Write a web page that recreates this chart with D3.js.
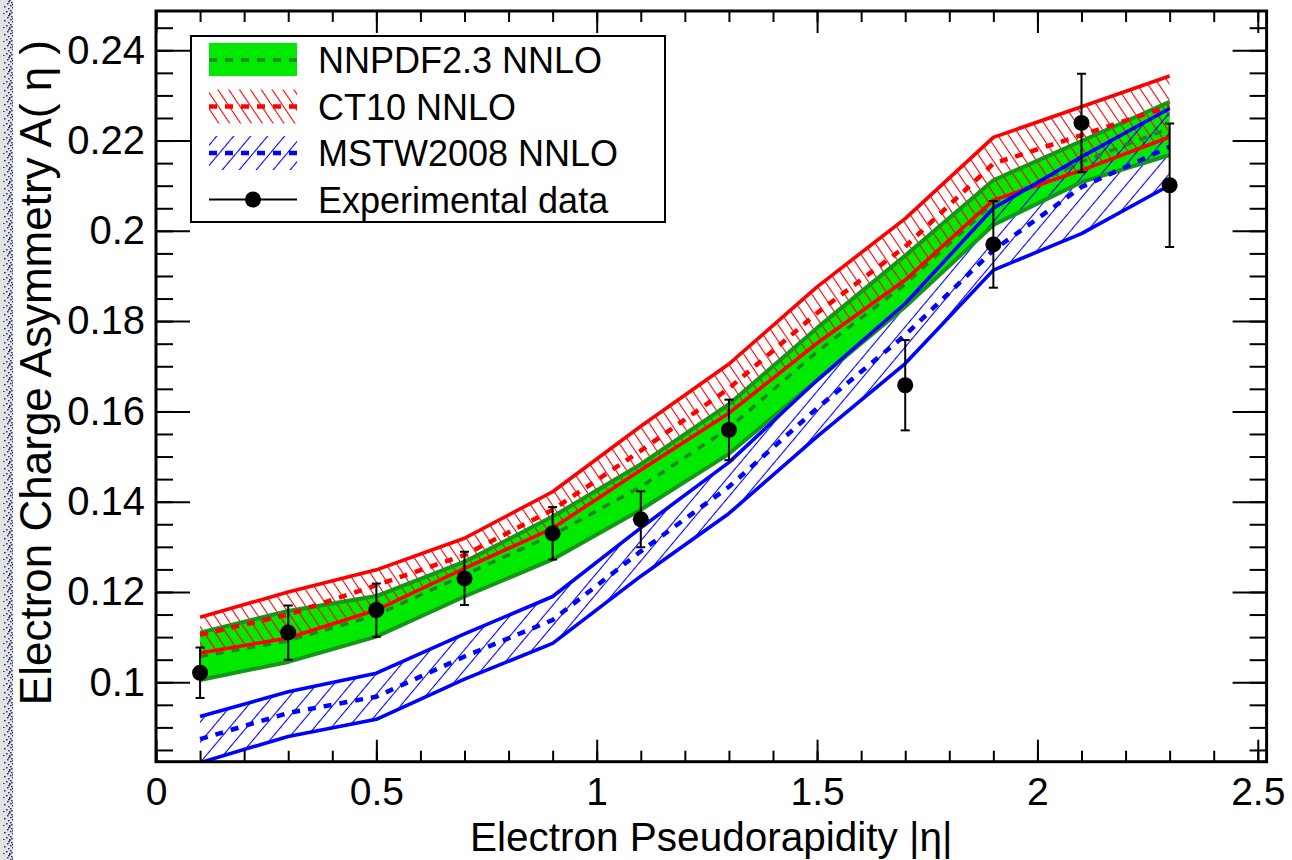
<!DOCTYPE html>
<html>
<head>
<meta charset="utf-8">
<script src="https://cdn.jsdelivr.net/npm/d3@7"></script>
<style>
  body { margin: 0; background: #fff; }
  svg { display: block; font-family: "Liberation Sans", Arial, Helvetica, sans-serif; }
</style>
</head>
<body>
<svg id="chart" width="1292" height="860"></svg>
<script>
// theory predictions, one value per eta bin
const etaBins = [0.1, 0.3, 0.5, 0.7, 0.9, 1.1, 1.3, 1.5, 1.7, 1.9, 2.1, 2.3];

const nnpdfUp  = [0.1110, 0.1158, 0.1191, 0.1267, 0.1367, 0.1483, 0.1616, 0.1785, 0.1945, 0.2112, 0.2199, 0.2286];
const nnpdfCen = [0.1057, 0.1092, 0.1149, 0.1238, 0.1326, 0.1433, 0.1563, 0.1732, 0.1882, 0.2061, 0.2153, 0.2227];
const nnpdfLo  = [0.1005, 0.1045, 0.1101, 0.1190, 0.1272, 0.1382, 0.1506, 0.1669, 0.1832, 0.2013, 0.2108, 0.2168];

const ct10Up  = [0.1144, 0.1200, 0.1249, 0.1319, 0.1422, 0.1567, 0.1705, 0.1876, 0.2027, 0.2207, 0.2275, 0.2343];
const ct10Cen = [0.1105, 0.1150, 0.1215, 0.1282, 0.1382, 0.1513, 0.1651, 0.1818, 0.1965, 0.2149, 0.2212, 0.2276];
const ct10Lo  = [0.1065, 0.1098, 0.1160, 0.1252, 0.1341, 0.1470, 0.1596, 0.1751, 0.1891, 0.2068, 0.2134, 0.2208];

const mstwUp  = [0.0924, 0.0979, 0.1020, 0.1107, 0.1190, 0.1342, 0.1487, 0.1669, 0.1839, 0.2050, 0.2164, 0.2271];
const mstwCen = [0.0874, 0.0932, 0.0968, 0.1057, 0.1138, 0.1290, 0.1433, 0.1607, 0.1769, 0.1957, 0.2097, 0.2186];
const mstwLo  = [0.0822, 0.0880, 0.0918, 0.1007, 0.1086, 0.1235, 0.1374, 0.1544, 0.1706, 0.1913, 0.1994, 0.2101];

// measured asymmetry (no point at 1.5)
const dataEta = [0.1, 0.3, 0.5, 0.7, 0.9, 1.1, 1.3, 1.7, 1.9, 2.1, 2.3];
const dataVal = [0.1021, 0.1110, 0.1160, 0.1230, 0.1330, 0.1361, 0.1559, 0.1658, 0.1970, 0.2239, 0.2101];
const dataErr = [0.0056, 0.0060, 0.0059, 0.0059, 0.0058, 0.0062, 0.0067, 0.0100, 0.0096, 0.0109, 0.0137];

const xTicks = [0, 0.5, 1, 1.5, 2, 2.5];
const xTickLabels = ["0", "0.5", "1", "1.5", "2", "2.5"];
const yTicks = [0.1, 0.12, 0.14, 0.16, 0.18, 0.2, 0.22, 0.24];
const yTickLabels = ["0.1", "0.12", "0.14", "0.16", "0.18", "0.2", "0.22", "0.24"];

const legendLabels = ["NNPDF2.3 NNLO", "CT10 NNLO", "MSTW2008 NNLO", "Experimental data"];

const svg = d3.select("#chart");
const frame = { left: 156, right: 1266.6, top: 11, bottom: 761.7 };

const x = d3.scaleLinear().domain([0, 2.52]).range([frame.left, frame.right]);
const y = d3.scaleLinear().domain([0.0824, 0.2487]).range([frame.bottom, frame.top]);

const defs = svg.append("defs");
defs.append("clipPath").attr("id", "plotClip")
    .append("rect")
    .attr("x", frame.left).attr("y", frame.top)
    .attr("width", frame.right - frame.left).attr("height", frame.bottom - frame.top);

function hatch(id, color, spacing, angle) {
    const p = defs.append("pattern")
        .attr("id", id)
        .attr("patternUnits", "userSpaceOnUse")
        .attr("width", spacing).attr("height", spacing)
        .attr("patternTransform", `rotate(${angle})`);
    p.append("line")
        .attr("x1", spacing / 2).attr("x2", spacing / 2)
        .attr("y1", 0).attr("y2", spacing)
        .attr("stroke", color).attr("stroke-width", 1.1);
}
hatch("hatchRed", "#ff0000", 9, -34);
hatch("hatchBlue", "#0000ff", 13, 40);

// speckled strip from the slide background at the left edge
const speck = defs.append("pattern").attr("id", "speck")
    .attr("patternUnits", "userSpaceOnUse").attr("width", 13).attr("height", 14);
[[9, 0], [11, 2], [7, 3], [10, 5], [4, 6], [12, 7], [8, 8], [10, 10], [6, 11], [11, 12], [3, 13], [9, 13], [12, 4], [8, 1]]
    .forEach(([sx, sy]) => speck.append("rect").attr("x", sx).attr("y", sy)
        .attr("width", 1.6).attr("height", 1.4).attr("fill", "#1d3470"));
svg.append("rect").attr("x", 0).attr("y", 0).attr("width", 13).attr("height", 860).attr("fill", "#e3e3e3");
svg.append("rect").attr("x", 0).attr("y", 0).attr("width", 13).attr("height", 860).attr("fill", "url(#speck)");

const idx = d3.range(etaBins.length);
const band = (lo, up) => d3.area().x(i => x(etaBins[i])).y0(i => y(lo[i])).y1(i => y(up[i]))(idx);
const curve = vals => d3.line().x(i => x(etaBins[i])).y(i => y(vals[i]))(idx);

const plot = svg.append("g").attr("clip-path", "url(#plotClip)");

const green = "#00ea00", darkGreen = "#15961a", dashGreen = "#24832a";

plot.append("path").attr("d", band(nnpdfLo, nnpdfUp)).attr("fill", green);
plot.append("path").attr("d", band(ct10Lo, ct10Up)).attr("fill", "url(#hatchRed)");
plot.append("path").attr("d", band(mstwLo, mstwUp)).attr("fill", "url(#hatchBlue)");

function drawLine(vals, color, width, dash) {
    plot.append("path").attr("d", curve(vals))
        .attr("fill", "none").attr("stroke", color).attr("stroke-width", width)
        .attr("stroke-linejoin", "round")
        .attr("stroke-dasharray", dash || null);
}
drawLine(nnpdfUp, darkGreen, 4);
drawLine(nnpdfLo, darkGreen, 4);
drawLine(nnpdfCen, dashGreen, 3.5, "8 8");
drawLine(ct10Up, "#ff0000", 3.6);
drawLine(ct10Lo, "#ff0000", 3.6);
drawLine(ct10Cen, "#ff0000", 4.5, "8 8");
drawLine(mstwUp, "#0000ff", 3.6);
drawLine(mstwLo, "#0000ff", 3.6);
drawLine(mstwCen, "#0000ff", 4.5, "8 8");

// data points with error bars
const pts = plot.append("g");
dataEta.forEach((e, i) => {
    const cx = x(e);
    const yt = y(dataVal[i] + dataErr[i]), yb = y(dataVal[i] - dataErr[i]);
    pts.append("line").attr("x1", cx).attr("x2", cx).attr("y1", yt).attr("y2", yb)
        .attr("stroke", "#000").attr("stroke-width", 2);
    [yt, yb].forEach(yc => pts.append("line")
        .attr("x1", cx - 4.5).attr("x2", cx + 4.5).attr("y1", yc).attr("y2", yc)
        .attr("stroke", "#000").attr("stroke-width", 2));
    pts.append("circle").attr("cx", cx).attr("cy", y(dataVal[i])).attr("r", 8).attr("fill", "#000");
});

// axes: major and minor ticks on all four sides, pointing inward
const xMinor = d3.range(0, 2.51, 0.1);
const yMinor = d3.range(0.085, 0.2451, 0.005);

function styleAxis(g) {
    g.select(".domain").remove();
    g.selectAll("line").attr("stroke", "#000").attr("stroke-width", 2);
    g.selectAll("text").attr("font-size", 39).attr("font-family", "Liberation Sans, Arial, sans-serif").attr("fill", "#000");
}

svg.append("g").attr("transform", `translate(0,${frame.bottom})`)
    .call(d3.axisBottom(x).tickValues(xMinor).tickSize(-11).tickFormat("")).call(styleAxis);
svg.append("g").attr("transform", `translate(0,${frame.bottom})`)
    .call(d3.axisBottom(x).tickValues(xTicks).tickSize(-22).tickPadding(16)
        .tickFormat((d, i) => xTickLabels[i])).call(styleAxis);
svg.append("g").attr("transform", `translate(0,${frame.top})`)
    .call(d3.axisTop(x).tickValues(xMinor).tickSize(-11).tickFormat("")).call(styleAxis);
svg.append("g").attr("transform", `translate(0,${frame.top})`)
    .call(d3.axisTop(x).tickValues(xTicks).tickSize(-22).tickFormat("")).call(styleAxis);

svg.append("g").attr("transform", `translate(${frame.left},0)`)
    .call(d3.axisLeft(y).tickValues(yMinor).tickSize(-17).tickFormat("")).call(styleAxis);
svg.append("g").attr("transform", `translate(${frame.left},0)`)
    .call(d3.axisLeft(y).tickValues(yTicks).tickSize(-34).tickPadding(11)
        .tickFormat((d, i) => yTickLabels[i]))
    .call(styleAxis)
    .call(g => g.selectAll("text").attr("font-size", 40));
svg.append("g").attr("transform", `translate(${frame.right},0)`)
    .call(d3.axisRight(y).tickValues(yMinor).tickSize(-17).tickFormat("")).call(styleAxis);
svg.append("g").attr("transform", `translate(${frame.right},0)`)
    .call(d3.axisRight(y).tickValues(yTicks).tickSize(-34).tickFormat("")).call(styleAxis);

svg.append("rect")
    .attr("x", frame.left).attr("y", frame.top)
    .attr("width", frame.right - frame.left).attr("height", frame.bottom - frame.top)
    .attr("fill", "none").attr("stroke", "#000").attr("stroke-width", 3);

// axis titles
svg.append("text")
    .attr("x", (frame.left + frame.right) / 2).attr("y", 851)
    .attr("text-anchor", "middle").attr("font-size", 40.5)
    .text("Electron Pseudorapidity |η|");
svg.append("text")
    .attr("transform", "translate(51,40) rotate(-90)")
    .attr("text-anchor", "end").attr("font-size", 44)
    .text("Electron Charge Asymmetry A( η )");

// legend
const leg = svg.append("g");
leg.append("rect").attr("x", 191).attr("y", 36).attr("width", 474).attr("height", 186)
    .attr("fill", "#fff").attr("stroke", "#000").attr("stroke-width", 2);
const rowY = i => 60 + i * 46.5;
const sx0 = 209, sx1 = 297;

leg.append("rect").attr("x", sx0).attr("y", rowY(0) - 17).attr("width", sx1 - sx0).attr("height", 33).attr("fill", green);
leg.append("line").attr("x1", sx0).attr("x2", sx1).attr("y1", rowY(0)).attr("y2", rowY(0))
    .attr("stroke", dashGreen).attr("stroke-width", 3.5).attr("stroke-dasharray", "8 8");

[["url(#hatchRed)", "#ff0000"], ["url(#hatchBlue)", "#0000ff"]].forEach(([fill, col], k) => {
    const cy = rowY(k + 1);
    leg.append("rect").attr("x", sx0).attr("y", cy - 17).attr("width", sx1 - sx0).attr("height", 34).attr("fill", fill);
    leg.append("line").attr("x1", sx0).attr("x2", sx1).attr("y1", cy).attr("y2", cy)
        .attr("stroke", col).attr("stroke-width", 4.5).attr("stroke-dasharray", "8 8");
});

leg.append("line").attr("x1", sx0).attr("x2", sx1).attr("y1", rowY(3)).attr("y2", rowY(3))
    .attr("stroke", "#000").attr("stroke-width", 2);
leg.append("circle").attr("cx", (sx0 + sx1) / 2).attr("cy", rowY(3)).attr("r", 8).attr("fill", "#000");

legendLabels.forEach((t, i) => {
    leg.append("text").attr("x", 318).attr("y", rowY(i) + 13).attr("font-size", 36).text(t);
});
</script>
</body>
</html>
